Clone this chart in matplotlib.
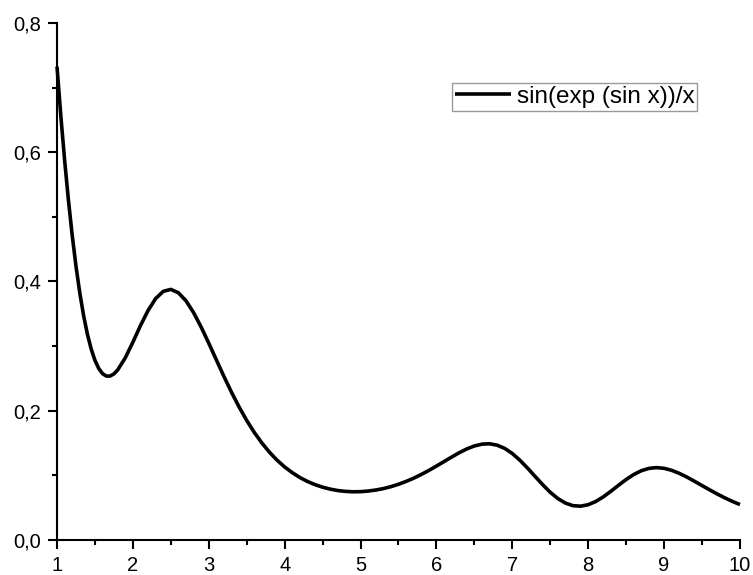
import matplotlib
matplotlib.use('Agg')
import matplotlib.pyplot as plt
from matplotlib.ticker import MultipleLocator, FuncFormatter

plt.rcParams['font.family'] = ['Liberation Sans', 'DejaVu Sans']

# denser sampling on the steep part near x = 1
x = [1.0, 1.05, 1.1, 1.15, 1.2, 1.25, 1.3, 1.35, 1.4, 1.45, 1.5, 1.55, 1.6, 1.65,
     1.7, 1.75, 1.8, 1.9,
     2.0, 2.1, 2.2, 2.3, 2.4, 2.5, 2.6, 2.7, 2.8, 2.9,
     3.0, 3.1, 3.2, 3.3, 3.4, 3.5, 3.6, 3.7, 3.8, 3.9,
     4.0, 4.1, 4.2, 4.3, 4.4, 4.5, 4.6, 4.7, 4.8, 4.9,
     5.0, 5.1, 5.2, 5.3, 5.4, 5.5, 5.6, 5.7, 5.8, 5.9,
     6.0, 6.1, 6.2, 6.3, 6.4, 6.5, 6.6, 6.7, 6.8, 6.9,
     7.0, 7.1, 7.2, 7.3, 7.4, 7.5, 7.6, 7.7, 7.8, 7.9,
     8.0, 8.1, 8.2, 8.3, 8.4, 8.5, 8.6, 8.7, 8.8, 8.9,
     9.0, 9.1, 9.2, 9.3, 9.4, 9.5, 9.6, 9.7, 9.8, 9.9,
     10.0]
y = [0.7325, 0.6567, 0.5882, 0.5265, 0.4718, 0.4239, 0.3825, 0.3476, 0.3188, 0.2957,
     0.2780, 0.2654, 0.2574, 0.2536, 0.2537, 0.2570, 0.2632, 0.2819,
     0.3061, 0.3318, 0.3551, 0.3736, 0.3847, 0.3878, 0.3825, 0.3701, 0.3518, 0.3294,
     0.3045, 0.2787, 0.2530, 0.2285, 0.2057, 0.1849, 0.1664, 0.1501, 0.1358, 0.1235,
     0.1130, 0.1042, 0.0967, 0.0906, 0.0856, 0.0817, 0.0787, 0.0765, 0.0752, 0.0746,
     0.0748, 0.0757, 0.0773, 0.0795, 0.0825, 0.0862, 0.0906, 0.0956, 0.1014, 0.1076,
     0.1144, 0.1213, 0.1283, 0.1350, 0.1409, 0.1455, 0.1483, 0.1489, 0.1467, 0.1417,
     0.1338, 0.1234, 0.1113, 0.0984, 0.0856, 0.0738, 0.0641, 0.0571, 0.0531, 0.0523,
     0.0546, 0.0596, 0.0668, 0.0755, 0.0847, 0.0936, 0.1013, 0.1072, 0.1108, 0.1120,
     0.1109, 0.1078, 0.1031, 0.0974, 0.0909, 0.0842, 0.0776, 0.0712, 0.0652, 0.0597,
     0.0548]
label = 'sin(exp (sin x))/x'

fig = plt.figure(figsize=(7.53, 5.75), dpi=100)
ax = fig.add_axes([0.0757, 0.0609, 0.907, 0.8991])

ax.plot(x, y, color='black', lw=2.6, label=label, clip_on=False,
        solid_joinstyle='round', solid_capstyle='butt')

ax.set_xlim(1, 10)
ax.set_ylim(0, 0.8)
ax.xaxis.set_major_locator(MultipleLocator(1))
ax.xaxis.set_minor_locator(MultipleLocator(0.5))
ax.yaxis.set_major_locator(MultipleLocator(0.2))
ax.yaxis.set_minor_locator(MultipleLocator(0.1))
ax.yaxis.set_major_formatter(FuncFormatter(lambda v, p: f'{v:.1f}'.replace('.', ',')))

for s in ['top', 'right']:
    ax.spines[s].set_visible(False)
for s in ['left', 'bottom']:
    ax.spines[s].set_linewidth(1.5)

ax.tick_params(which='major', direction='out', length=6.5, width=1.5, labelsize=14.5)
ax.tick_params(which='minor', direction='out', length=3.4, width=1.5)
ax.tick_params(axis='y', which='major', pad=5)
ax.tick_params(axis='x', which='major', pad=5)

leg = ax.legend(loc='upper left', bbox_to_anchor=(0.6003, 0.8557),
                bbox_transform=fig.transFigure, fontsize=17.5, frameon=True,
                fancybox=False, borderaxespad=0, borderpad=0.12,
                handlelength=2.3, handletextpad=0.25)
leg.get_frame().set_edgecolor('#808080')
leg.get_frame().set_linewidth(1.0)

fig.savefig('out.png', dpi=100)
